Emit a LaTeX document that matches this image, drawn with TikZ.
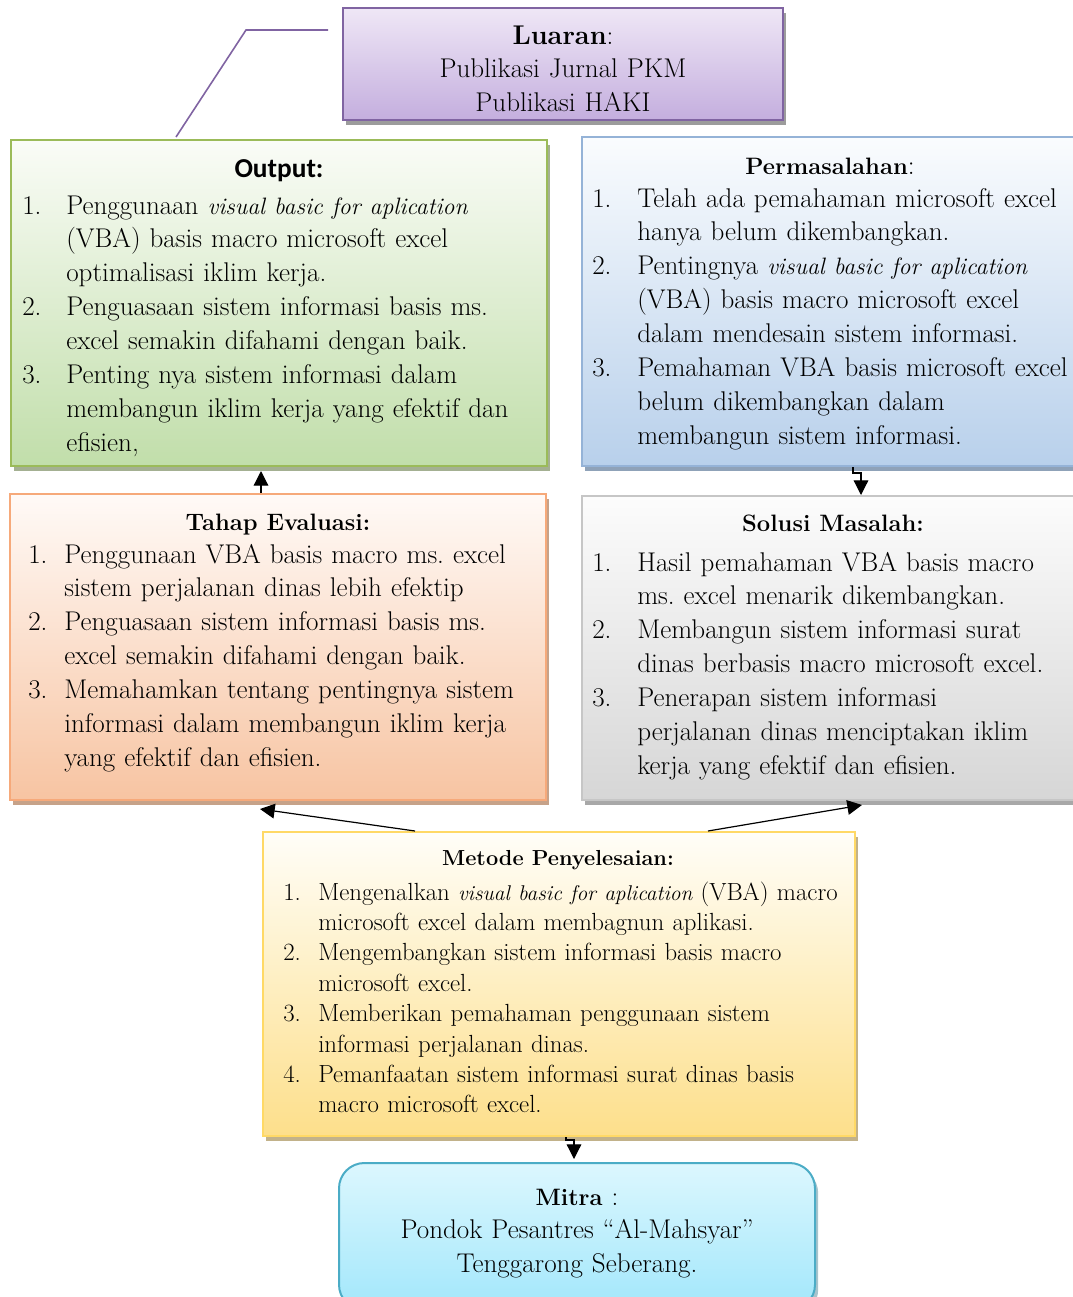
\documentclass[tikz,border=0pt]{standalone}
\usepackage{fontspec}
\newfontfamily\calib{Carlito}
\usetikzlibrary{arrows.meta,shadows,fit,calc}
\definecolor{luaB}{HTML}{8064A2}\definecolor{luaT}{HTML}{EFE7F6}\definecolor{luaF}{HTML}{C4AEDE}\definecolor{luaS}{HTML}{9C9C9C}
\definecolor{outB}{HTML}{9BBB59}\definecolor{outT}{HTML}{FAFCF7}\definecolor{outF}{HTML}{C1DEAA}\definecolor{outS}{HTML}{A4B092}
\definecolor{perB}{HTML}{95B3D7}\definecolor{perT}{HTML}{FAFCFE}\definecolor{perF}{HTML}{B8D0EB}\definecolor{perS}{HTML}{8FA2B8}
\definecolor{tahB}{HTML}{F6A97A}\definecolor{tahT}{HTML}{FFFAF7}\definecolor{tahF}{HTML}{F7C4A2}\definecolor{tahS}{HTML}{C6A289}
\definecolor{solB}{HTML}{C6C6C6}\definecolor{solT}{HTML}{FCFCFC}\definecolor{solF}{HTML}{D6D6D6}\definecolor{solS}{HTML}{A8A8A8}
\definecolor{metB}{HTML}{FFD966}\definecolor{metT}{HTML}{FFFEF8}\definecolor{metF}{HTML}{FDDF8B}\definecolor{metS}{HTML}{C2B28A}
\definecolor{mitB}{HTML}{4BACC6}\definecolor{mitT}{HTML}{DCF7FE}\definecolor{mitF}{HTML}{A2E7FB}\definecolor{mitS}{HTML}{A8C4CC}
\newlength\numw
\newcommand\nm[1]{\makebox[\numw][l]{#1}}
\newcommand\ind{\hspace*{\numw}}
\newcommand\itb[1]{{\fontsize{17.8}{25.4}\selectfont\itshape #1}}
\newcommand\its[1]{{\fontsize{16}{22.8}\selectfont\itshape #1}}
\newcommand\ttlb[1]{{\fontsize{17.8}{25.4}\selectfont\bfseries #1}}
\tikzset{
  x=0.75pt, y=-0.75pt,
  box/.style={inner sep=0pt, line width=1.5pt},
  shd/.style={drop shadow={shadow xshift=2.4pt, shadow yshift=-3.6pt, fill=#1, opacity=1}},
  arr/.style={draw=black, line width=0.9pt, -{Triangle[length=11pt,width=11pt]}},
  bigf/.style={font=\fontsize{20.3}{25.4}\selectfont},
  smallf/.style={font=\fontsize{18.6}{22.8}\selectfont},
  txt/.style={bigf, inner sep=0pt, text width=600pt, align=left, anchor=base west},
  stxt/.style={smallf, inner sep=0pt, text width=600pt, align=left, anchor=base west},
  ctxt/.style={bigf, inner sep=0pt, text width=400pt, align=center, anchor=base},
  ttl/.style={bigf, inner sep=0pt, anchor=base},
}
\begin{document}
\begin{tikzpicture}
\useasboundingbox (0,0) rectangle (1073,1297);
% boxes
\node[box, shd=luaS, fit={(343,8)(783,120)}, draw=luaB, top color=luaT, bottom color=luaF] (lua) {};
\node[box, shd=outS, fit={(11,140)(547,466)}, draw=outB, top color=outT, bottom color=outF] (out) {};
\node[box, shd=perS, fit={(582,137)(1085,466)}, draw=perB, top color=perT, bottom color=perF] (per) {};
\node[box, shd=tahS, fit={(10,494)(546,800)}, draw=tahB, top color=tahT, bottom color=tahF] (tah) {};
\node[box, shd=solS, fit={(582,496)(1085,800)}, draw=solB, top color=solT, bottom color=solF] (sol) {};
\node[box, shd=metS, fit={(263,832)(855,1136)}, draw=metB, top color=metT, bottom color=metF] (met) {};
\node[box, shd=mitS, fit={(339,1163)(815,1310)}, draw=mitB, rounded corners=19pt, top color=mitT, bottom color=mitF] (mit) {};
% texts
\node[ctxt] (luaT) at (563,44) {\textbf{Luaran}:\\Publikasi Jurnal PKM\\Publikasi HAKI};
\node[inner sep=0pt, anchor=base, font=\calib\bfseries\fontsize{20.5}{24}\selectfont] (outH) at (279,177) {Output:};
\setlength\numw{33pt}
\node[txt] (outL) at (22,214) {\nm{1.}Penggunaan \itb{visual basic for aplication}\\
\ind(VBA) basis macro microsoft excel\\
\ind optimalisasi iklim kerja.\\
\nm{2.}Penguasaan sistem informasi basis ms.\\
\ind excel semakin difahami dengan baik.\\
\nm{3.}Penting nya sistem informasi dalam\\
\ind membangun iklim kerja yang efektif dan\\
\ind efisien,};
\node[ttl] (perH) at (830,174) {\ttlb{Permasalahan}:};
\setlength\numw{33.75pt}
\node[txt] (perL) at (592,207) {\nm{1.}Telah ada pemahaman microsoft excel\\
\ind hanya belum dikembangkan.\\
\nm{2.}Pentingnya \itb{visual basic for aplication}\\
\ind(VBA) basis macro microsoft excel\\
\ind dalam mendesain sistem informasi.\\
\nm{3.}Pemahaman VBA basis microsoft excel\\
\ind belum dikembangkan dalam\\
\ind membangun sistem informasi.};
\node[ttl] (tahH) at (278,530) {\ttlb{Tahap Evaluasi:}};
\setlength\numw{27pt}
\node[txt] (tahL) at (28,563) {\nm{1.}Penggunaan VBA basis macro ms.\ excel\\
\ind sistem perjalanan dinas lebih efektip\\
\nm{2.}Penguasaan sistem informasi basis ms.\\
\ind excel semakin difahami dengan baik.\\
\nm{3.}Memahamkan tentang pentingnya sistem\\
\ind informasi dalam membangun iklim kerja\\
\ind yang efektif dan efisien.};
\node[ttl] (solH) at (833,531) {\ttlb{Solusi Masalah:}};
\setlength\numw{33.75pt}
\node[txt] (solL) at (592,571) {\nm{1.}Hasil pemahaman VBA basis macro\\
\ind ms.\ excel menarik dikembangkan.\\
\nm{2.}Membangun sistem informasi surat\\
\ind dinas berbasis macro microsoft excel.\\
\nm{3.}Penerapan sistem informasi\\
\ind perjalanan dinas menciptakan iklim\\
\ind kerja yang efektif dan efisien.};
\node[ttl, font=\fontsize{16.3}{22.8}\selectfont\bfseries] (metH) at (558,865) {Metode Penyelesaian:};
\setlength\numw{26.25pt}
\node[stxt] (metL) at (283,900) {\nm{1.}Mengenalkan \its{visual basic for aplication} (VBA) macro\\
\ind microsoft excel dalam membagnun aplikasi.\\
\nm{2.}Mengembangkan sistem informasi basis macro\\
\ind microsoft excel.\\
\nm{3.}Memberikan pemahaman penggunaan sistem\\
\ind informasi perjalanan dinas.\\
\nm{4.}Pemanfaatan sistem informasi surat dinas basis\\
\ind macro microsoft excel.};
\node[ctxt] (mitT) at (577,1205) {\ttlb{Mitra} :\\Pondok Pesantres “Al-Mahsyar”\\Tenggarong Seberang.};
% connectors
\coordinate (lc) at (328,30);
\coordinate (xa) at (261,0);
\coordinate (xb) at (853,0);
\coordinate (xc) at (861,0);
\coordinate (xd) at (415,0);
\coordinate (xe) at (708,0);
\coordinate (xf) at (566,0);
\coordinate (xg) at (574,0);
\coordinate (xh) at (176,0);
\draw[luaB, line width=1.2pt] (lc) -- (246,30) -- ($(out.north -| xh)+(0,-2)$);
\draw[arr] (tah.north -| xa) -- ($(out.south -| xa)+(0,4)$);
\draw[arr] (per.south -| xb) -- ++(0,6) -| (sol.north -| xc);
\draw[arr] (met.north -| xd) -- ($(tah.south)+(-18,8)$);
\draw[arr] (met.north -| xe) -- ($(sol.south -| xc)+(1,4)$);
\draw[arr] (met.south -| xf) -- ++(0,3) -| ($(mit.north -| xg)+(0,-3)$);
\end{tikzpicture}
\end{document}
